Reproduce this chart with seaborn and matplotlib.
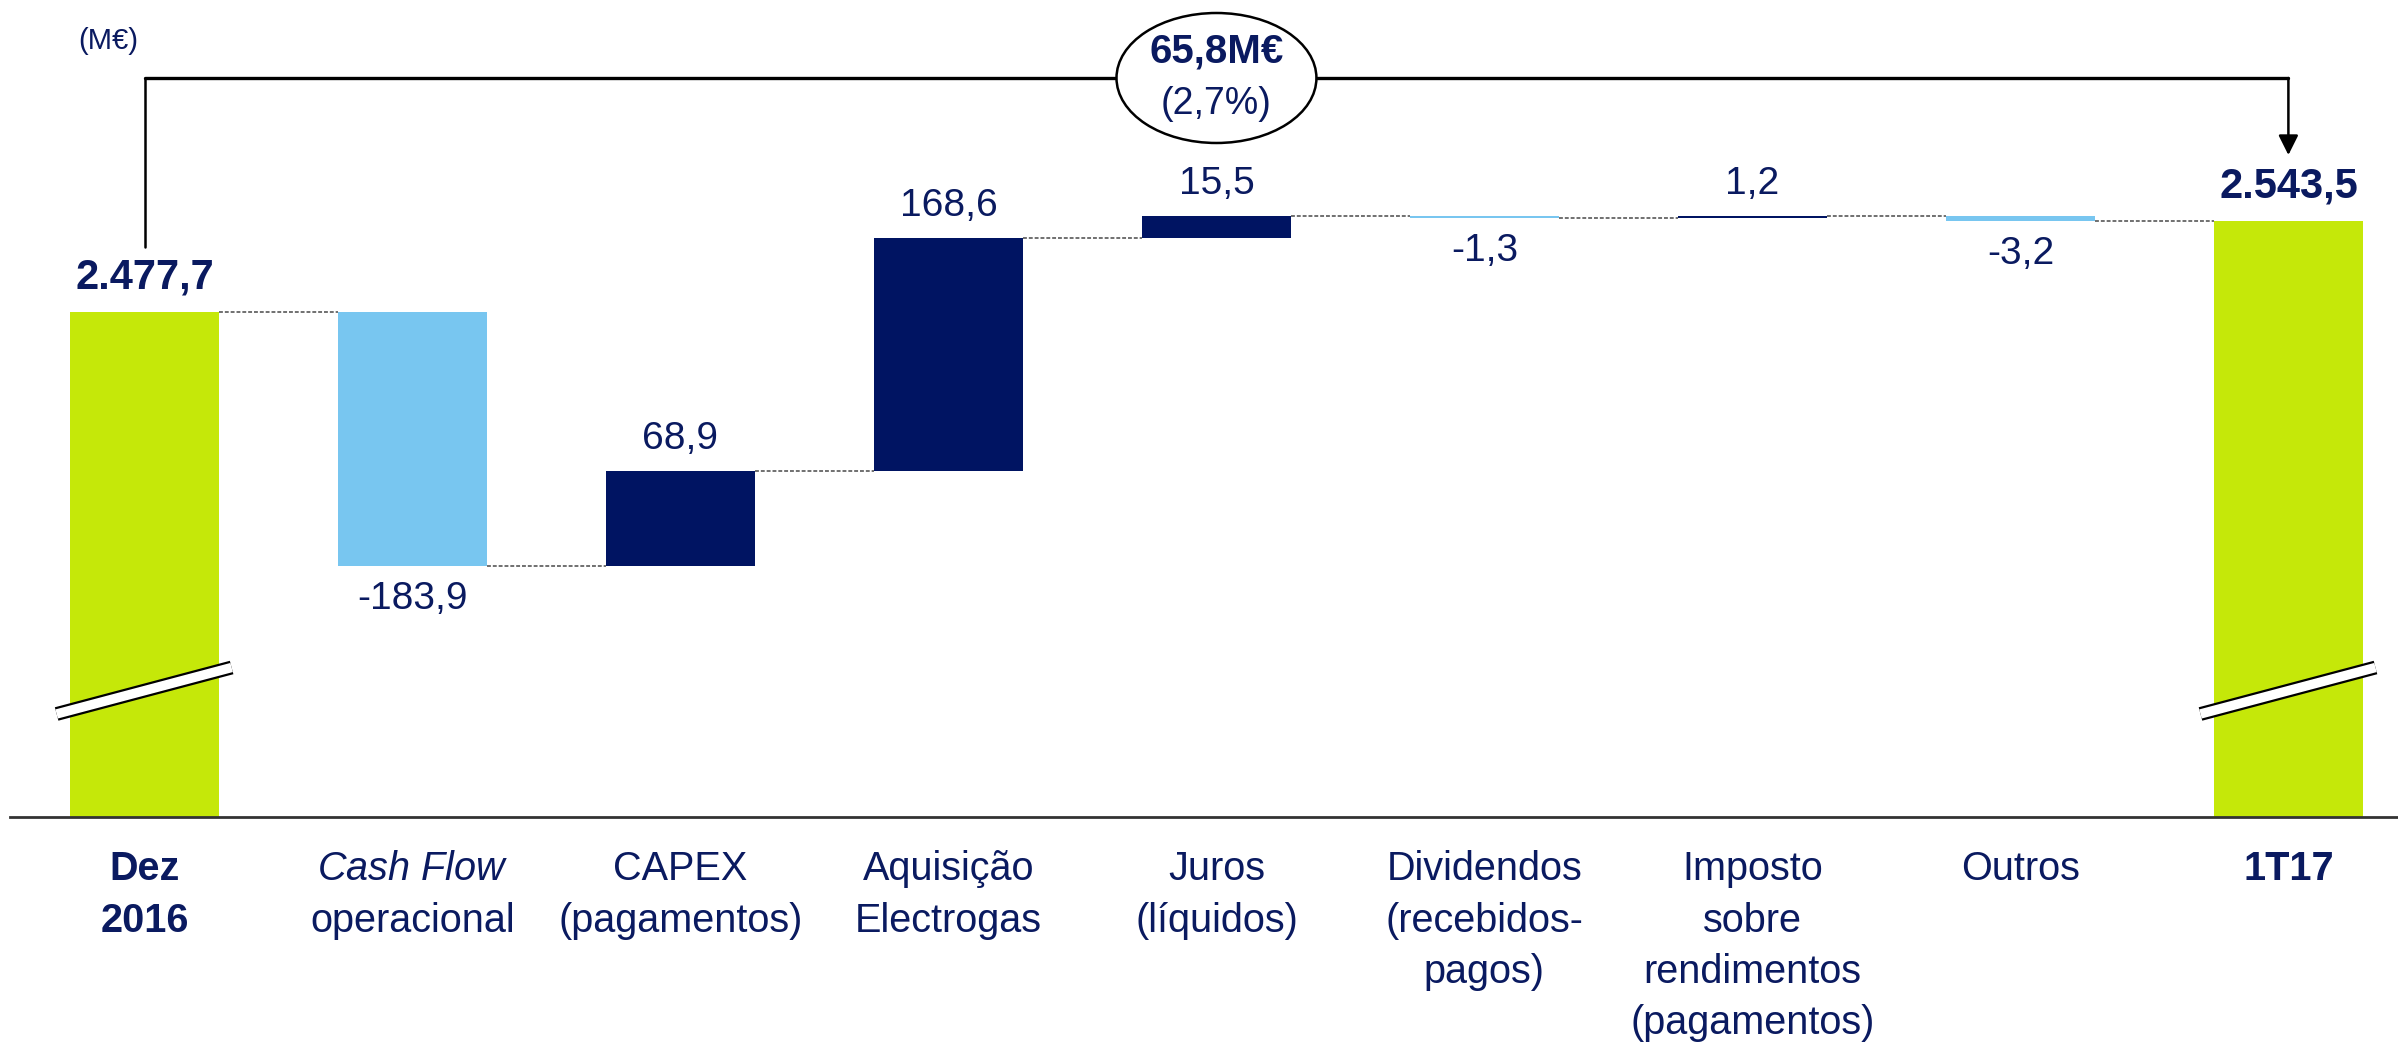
import numpy as np
import pandas as pd
import matplotlib.pyplot as plt
import seaborn as sns
from matplotlib.patches import Ellipse

# === Data (M€) ===
categories = ["Dez 2016", "Cash Flow operacional", "CAPEX (pagamentos)", "Aquisição Electrogas",
              "Juros (líquidos)", "Dividendos (recebidos-pagos)",
              "Imposto sobre rendimentos (pagamentos)", "Outros", "1T17"]
tick_labels = ["Dez\n2016", "$\\mathit{Cash\\ Flow}$\noperacional", "CAPEX\n(pagamentos)",
               "Aquisição\nElectrogas", "Juros\n(líquidos)", "Dividendos\n(recebidos-\npagos)",
               "Imposto\nsobre\nrendimentos\n(pagamentos)", "Outros", "1T17"]
start_value = 2477.7
changes = [-183.9, 68.9, 168.6, 15.5, -1.3, 1.2, -3.2]
end_value = 2543.5

# === Colours ===
LIME = "#C5E809"
NAVY = "#001462"
LIGHT = "#78C6F0"
TXT = "#0A1A60"

sns.set_style("white")
plt.rcParams["font.family"] = ["Liberation Sans", "DejaVu Sans"]
plt.rcParams["mathtext.fontset"] = "custom"
plt.rcParams["mathtext.it"] = "Liberation Sans:italic"
plt.rcParams["mathtext.rm"] = "Liberation Sans"

# === Waterfall table ===
levels = [start_value]
for c in changes:
    levels.append(levels[-1] + c)

low = [0.0] + [min(levels[i], levels[i + 1]) for i in range(len(changes))] + [0.0]
high = [start_value] + [max(levels[i], levels[i + 1]) for i in range(len(changes))] + [end_value]
kind = ["total"] + ["up" if c > 0 else "down" for c in changes] + ["total"]
df = pd.DataFrame({"cat": categories, "low": low, "high": high, "kind": kind})

fig = plt.figure(figsize=(23.98, 10.44), dpi=100)
ax = fig.add_axes([10 / 2398, 1 - 817 / 1044, 1 - 10 / 2398, 817 / 1044])

W = 0.556
sns.barplot(data=df, x="cat", y="high", hue="kind", order=categories, dodge=False,
            palette={"total": LIME, "up": NAVY, "down": LIGHT}, width=W,
            saturation=1, errorbar=None, legend=False, linewidth=0, ax=ax)
# mask the part below each floating bar
sns.barplot(data=df, x="cat", y="low", order=categories, color="white", width=W,
            saturation=1, errorbar=None, linewidth=0, ax=ax)

ax.set_xlim(-0.502, 8.409)
ax.set_ylim(2112.3, 2703.1)
ax.set_xlabel("")
ax.set_ylabel("")
ax.set_yticks([])
for s in ["left", "right", "top"]:
    ax.spines[s].set_visible(False)
ax.spines["bottom"].set_color("#333333")
ax.spines["bottom"].set_linewidth(2)

# tick labels
ax.set_xticks(range(len(categories)))
ax.set_xticklabels(tick_labels, fontsize=28.5, color=TXT, linespacing=1.44)
ax.tick_params(axis="x", length=0, pad=24)
for i, t in enumerate(ax.get_xticklabels()):
    if kind[i] == "total":
        t.set_fontweight("bold")

# connectors
for i in range(len(categories) - 1):
    lvl = levels[i]
    ax.plot([i + W / 2, i + 1 - W / 2], [lvl, lvl], color="#707070", lw=1.4,
            ls=(0, (2, 1)), zorder=1)

# value labels
for i in range(len(categories)):
    if kind[i] == "total":
        v = high[i]
        ax.annotate(f"{v:,.1f}".replace(",", "X").replace(".", ",").replace("X", "."),
                    xy=(i, v), xytext=(0, 10), textcoords="offset points",
                    ha="center", va="bottom", fontsize=30, fontweight="bold", color=TXT)
    else:
        c = changes[i - 1]
        s = f"{c:.1f}".replace(".", ",")
        if c > 0:
            ax.annotate(s, xy=(i, high[i]), xytext=(0, 10), textcoords="offset points",
                        ha="center", va="bottom", fontsize=28, color=TXT)
        else:
            ax.annotate(s, xy=(i, low[i]), xytext=(0, -11), textcoords="offset points",
                        ha="center", va="top", fontsize=28, color=TXT)

# axis break marks on the total bars
for i in [0, len(categories) - 1]:
    xs = [i - 0.328, i + 0.325]
    ys = [2186.8, 2220.4]
    ax.plot(xs, ys, color="black", lw=10, solid_capstyle="butt", zorder=4)
    ax.plot(xs, ys, color="white", lw=6.8, solid_capstyle="butt", zorder=5)

# variation bracket
delta = end_value - start_value
y_br = 2646.7
last = len(categories) - 1
ax.plot([0, 0], [start_value + 47, y_br], color="black", lw=1.8, zorder=6, clip_on=False)
ax.plot([0, last], [y_br, y_br], color="black", lw=2.4, zorder=6, clip_on=False)
ax.annotate("", xy=(last, end_value + 47.5), xytext=(last, y_br),
            arrowprops=dict(arrowstyle="-|>", color="black", lw=1.8, mutation_scale=30,
                            shrinkA=0, shrinkB=0), zorder=6)
ax.add_patch(Ellipse((last / 2, y_br), 0.746, 94, facecolor="white", edgecolor="black",
                     lw=1.8, zorder=7, clip_on=False))
ax.text(last / 2, 2665.5, f"{delta:.1f}M€".replace(".", ","), ha="center", va="center",
        fontsize=29, fontweight="bold", color=TXT, zorder=8)
ax.text(last / 2, 2628.0, f"({delta / start_value * 100:.1f}%)".replace(".", ","),
        ha="center", va="center", fontsize=27, color=TXT, zorder=8)

fig.text(108 / 2398, 1 - 41 / 1044, "(M€)", ha="center", va="center", fontsize=21, color=TXT)

plt.savefig("out.png", dpi=100)
